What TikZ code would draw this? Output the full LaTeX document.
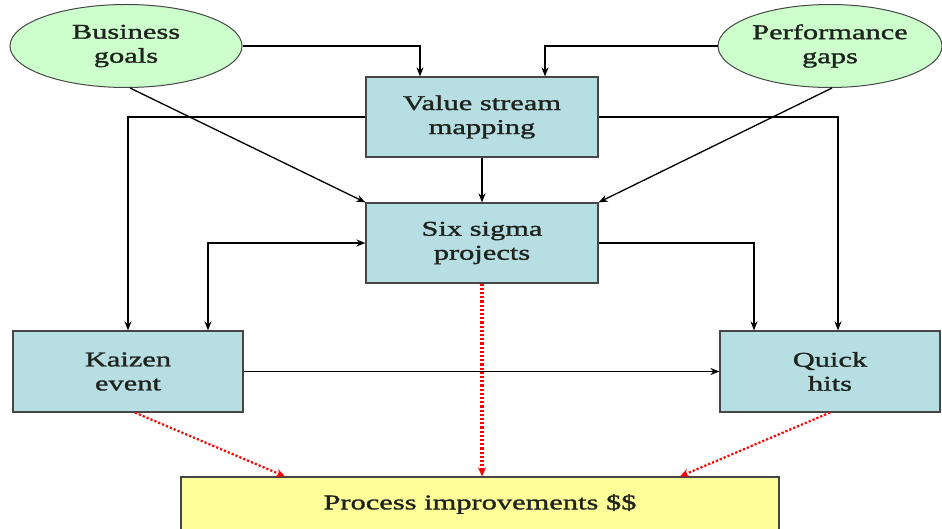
\documentclass[tikz,border=0pt]{standalone}
\usepackage{fontspec}
\setmainfont{Liberation Serif}
\newfontfamily\diagfont[FakeStretch=1.45,FakeBold=1.4]{Liberation Serif}
\usetikzlibrary{arrows.meta,shapes.geometric,calc}
\definecolor{goalgreen}{RGB}{204,255,204}
\definecolor{boxblue}{RGB}{183,222,226}
\definecolor{resultyellow}{RGB}{255,255,153}
\definecolor{edgegray}{RGB}{70,70,70}
\definecolor{inkdark}{RGB}{30,35,30}
\tikzset{
  txt/.style={font=\diagfont\fontsize{21}{24}\selectfont, align=center, text=inkdark},
  goal/.style={txt, ellipse, draw=edgegray, line width=1pt, fill=goalgreen, inner sep=0pt},
  stepbox/.style={txt, rectangle, draw=edgegray, line width=1.2pt, fill=boxblue, inner sep=0pt},
  resultbox/.style={txt, rectangle, draw=edgegray, line width=1.2pt, fill=resultyellow, inner sep=0pt},
  conn/.style={draw=black, line width=1.3pt, -{Stealth[length=9pt,width=7pt]}},
  thickconn/.style={conn, line width=2.2pt},
  gain/.style={draw=red, line width=2.2pt, dotted, -{Stealth[length=9pt,width=8pt]}},
  biggain/.style={gain, line width=3.5pt}
}
\begin{document}
\begin{tikzpicture}[x=1pt,y=-1pt]
\useasboundingbox (0,0) rectangle (942,529);
% inputs
\node[goal, minimum width=232, minimum height=83] (bg) at (126,46) {Business\\goals};
\node[goal, minimum width=224, minimum height=83] (pg) at (830,46) {Performance\\gaps};
% activities
\node[stepbox, minimum width=232, minimum height=80] (vsm) at (482,117) {Value stream\\mapping};
\node[stepbox, minimum width=232, minimum height=80] (ssp) at (482,243) {Six sigma\\projects};
\node[stepbox, minimum width=230, minimum height=81] (kz) at (128,371.5) {Kaizen\\event};
\node[stepbox, minimum width=220, minimum height=81] (qh) at (830,371.5) {Quick\\hits};
% outcome
\node[resultbox, minimum width=598, minimum height=54] (pi) at (480,504) {Process improvements \$\$};

% inputs into value stream mapping
\draw[conn] (bg.east) -| ([xshift=-62]vsm.north);
\draw[conn] (pg.west) -| ([xshift=63]vsm.north);
% inputs into six sigma
\draw[conn] ([xshift=4]bg.south) -- (ssp.north west);
\draw[conn] ([xshift=2]pg.south) -- (ssp.north east);
% value stream mapping outputs
\draw[thickconn] (vsm.west) -| (kz.north);
\draw[thickconn] (vsm.east) -| ([xshift=8]qh.north);
\draw[thickconn] (vsm.south) -- (ssp.north);
% six sigma links
\draw[thickconn, {Stealth[length=9pt,width=7pt]}-{Stealth[length=9pt,width=7pt]}] (ssp.west) -| ([xshift=80]kz.north);
\draw[thickconn] (ssp.east) -| ([xshift=-76]qh.north);
\draw[conn] (kz.east) -- (qh.west);
% results
\draw[biggain] (ssp.south) -- (ssp.south |- pi.north);
\draw[gain] ([xshift=7]kz.south) -- ([xshift=-195]pi.north);
\draw[gain] ([xshift=0]qh.south) -- ([xshift=200]pi.north);
\end{tikzpicture}
\end{document}
